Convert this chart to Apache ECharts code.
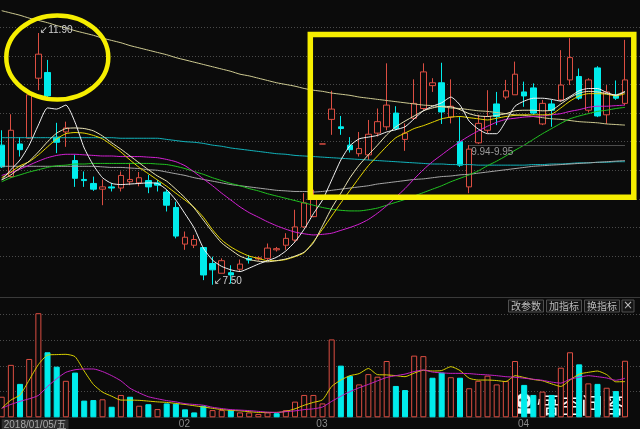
<!DOCTYPE html>
<html><head><meta charset="utf-8">
<script src="https://cdn.jsdelivr.net/npm/echarts@6/dist/echarts.min.js"></script>
<style>html,body{margin:0;padding:0;background:#0b0b0b;}#c{width:640px;height:429px;}</style>
</head><body><div id="c"></div>
<script>
const dates = [
'2018-01-05','2018-01-08','2018-01-09','2018-01-10','2018-01-11','2018-01-12','2018-01-15','2018-01-16','2018-01-17','2018-01-18','2018-01-19','2018-01-22','2018-01-23','2018-01-24','2018-01-25','2018-01-26','2018-01-29','2018-01-30','2018-01-31',
'2018-02-01','2018-02-02','2018-02-05','2018-02-06','2018-02-07','2018-02-08','2018-02-09','2018-02-12','2018-02-13','2018-02-14','2018-02-22','2018-02-23','2018-02-26','2018-02-27','2018-02-28',
'2018-03-01','2018-03-02','2018-03-05','2018-03-06','2018-03-07','2018-03-08','2018-03-09','2018-03-12','2018-03-13','2018-03-14','2018-03-15','2018-03-16','2018-03-19','2018-03-20','2018-03-21','2018-03-22','2018-03-23','2018-03-26','2018-03-27','2018-03-28','2018-03-29','2018-03-30',
'2018-04-02','2018-04-03','2018-04-04','2018-04-09','2018-04-10','2018-04-11','2018-04-12','2018-04-13','2018-04-16','2018-04-17','2018-04-18','2018-04-19','2018-04-20'];
const open  = [9.94,9.39,9.96,10.06,11.11,11.21,10.08,10.17,9.67,9.34,9.27,9.17,9.21,9.19,9.30,9.28,9.32,9.28,9.12,8.85,8.21,8.19,8.15,7.87,7.70,7.71,7.77,7.96,7.95,7.96,8.11,8.19,8.28,8.51,8.69,9.96,10.39,10.26,9.94,9.79,9.77,10.15,10.26,10.50,10.04,10.41,10.58,10.98,11.03,10.43,10.00,9.21,9.98,10.20,10.66,10.78,10.82,10.87,10.94,10.31,10.66,10.73,11.08,11.14,10.55,11.29,10.47,10.80,10.67];
const close = [9.56,10.20,9.86,10.82,11.53,10.80,9.99,10.24,9.36,9.32,9.17,9.21,9.19,9.41,9.34,9.37,9.21,9.24,8.89,8.35,8.33,8.29,7.67,7.76,7.92,7.67,7.86,7.93,7.97,8.14,8.13,8.31,8.51,8.93,9.06,9.96,10.57,10.23,9.86,9.88,10.13,10.35,10.64,10.23,10.15,10.67,11.22,11.03,10.52,10.62,9.59,9.87,10.32,10.44,10.44,10.89,11.18,10.80,10.50,10.67,10.55,10.99,11.47,10.76,11.08,10.45,10.87,10.76,11.08];
const low   = [9.54,9.37,9.74,10.05,10.90,10.78,9.80,9.91,9.21,9.21,9.14,8.89,9.13,9.13,9.24,9.22,9.10,9.13,8.78,8.31,8.11,8.14,7.58,7.50,7.70,7.52,7.74,7.87,7.92,7.93,8.08,8.11,8.25,8.49,8.68,9.96,10.12,10.12,9.81,9.74,9.68,10.09,10.20,10.20,9.84,10.38,10.55,10.87,10.31,10.32,9.56,9.10,9.96,10.15,10.29,10.74,10.82,10.61,10.47,10.29,10.26,10.70,10.99,10.73,10.51,10.43,10.31,10.73,10.64];
const high  = [10.20,10.48,10.08,10.82,11.90,11.43,10.33,10.35,9.77,9.48,9.39,9.34,9.28,9.48,9.63,9.47,9.42,9.33,9.16,8.95,8.43,8.37,8.16,7.99,7.96,7.84,7.94,8.02,8.00,8.22,8.16,8.40,8.81,9.10,9.16,9.96,10.89,10.45,10.08,10.17,10.38,10.58,11.37,10.62,10.32,11.09,11.37,11.11,11.38,11.09,10.43,9.94,10.47,10.90,10.87,11.08,11.40,11.05,11.02,10.73,10.73,11.60,11.81,11.28,11.11,11.32,10.99,11.07,11.78];
const volume = [0.80,2.04,1.30,2.27,4.05,2.53,1.97,1.42,1.74,0.65,0.67,0.70,0.41,0.87,0.80,0.45,0.51,0.32,0.54,0.53,0.31,0.19,0.45,0.28,0.28,0.28,0.19,0.19,0.13,0.19,0.16,0.28,0.61,0.87,0.87,0.54,3.03,2.01,1.61,1.28,1.68,1.58,2.19,1.22,1.06,2.40,2.38,1.54,1.74,1.56,1.54,1.13,1.42,1.62,1.28,1.41,2.19,1.26,0.87,1.00,0.87,1.93,2.53,2.06,1.32,1.30,1.15,1.02,2.20];
const maWhite = [9.33,9.51,9.68,9.94,10.29,10.59,10.57,10.64,10.34,9.89,9.59,9.37,9.27,9.25,9.26,9.27,9.28,9.27,9.16,8.98,8.74,8.49,8.14,7.93,7.82,7.76,7.73,7.79,7.86,7.92,7.98,8.09,8.25,8.47,8.74,8.98,9.33,9.68,9.93,10.05,10.08,10.11,10.17,10.21,10.26,10.40,10.54,10.62,10.68,10.78,10.64,10.36,10.22,10.14,10.14,10.36,10.62,10.71,10.76,10.76,10.74,10.71,10.79,10.89,10.93,10.93,10.86,10.81,10.87];
const maPale = [9.33,9.42,9.54,9.66,9.82,10.00,10.15,10.23,10.24,10.23,10.19,10.10,9.98,9.87,9.75,9.63,9.51,9.40,9.31,9.17,9.02,8.84,8.63,8.42,8.23,8.11,8.00,7.94,7.91,7.90,7.92,7.95,8.00,8.07,8.23,8.53,8.84,9.10,9.37,9.59,9.77,9.94,10.12,10.26,10.36,10.45,10.54,10.59,10.62,10.61,10.56,10.49,10.45,10.44,10.46,10.49,10.54,10.55,10.55,10.54,10.55,10.66,10.77,10.85,10.88,10.87,10.84,10.82,10.88];
const maYellow = [9.37,9.47,9.58,9.65,9.77,9.91,10.05,10.14,10.16,10.15,10.11,10.05,9.94,9.82,9.68,9.55,9.44,9.33,9.22,9.10,8.98,8.85,8.68,8.46,8.28,8.16,8.07,8.00,7.96,7.92,7.92,7.94,7.99,8.06,8.25,8.47,8.70,8.93,9.15,9.37,9.58,9.75,9.92,10.07,10.15,10.23,10.28,10.34,10.40,10.43,10.44,10.42,10.40,10.38,10.41,10.44,10.46,10.47,10.47,10.47,10.48,10.59,10.71,10.80,10.84,10.84,10.83,10.80,10.84];
const maMagenta = [9.41,9.46,9.52,9.59,9.66,9.72,9.76,9.78,9.78,9.77,9.76,9.75,9.75,9.74,9.74,9.74,9.73,9.72,9.69,9.65,9.58,9.47,9.35,9.23,9.10,8.98,8.86,8.76,8.68,8.60,8.53,8.47,8.42,8.39,8.37,8.38,8.40,8.45,8.50,8.56,8.64,8.75,8.88,9.03,9.18,9.35,9.51,9.65,9.77,9.89,10.00,10.10,10.19,10.27,10.34,10.39,10.41,10.43,10.44,10.45,10.47,10.49,10.53,10.56,10.60,10.62,10.62,10.63,10.64];
const maGreen = [9.30,9.37,9.42,9.47,9.51,9.55,9.58,9.59,9.61,9.61,9.62,9.62,9.62,9.62,9.62,9.62,9.62,9.61,9.60,9.57,9.53,9.48,9.43,9.37,9.32,9.27,9.23,9.18,9.14,9.09,9.05,9.01,8.97,8.93,8.89,8.85,8.82,8.80,8.79,8.79,8.81,8.84,8.89,8.94,8.99,9.05,9.11,9.17,9.23,9.30,9.36,9.42,9.49,9.58,9.66,9.75,9.85,9.94,10.04,10.14,10.23,10.32,10.40,10.45,10.49,10.53,10.55,10.58,10.60];
const maGray = [9.57,9.57,9.57,9.57,9.57,9.57,9.57,9.57,9.57,9.57,9.57,9.56,9.55,9.55,9.54,9.53,9.51,9.50,9.47,9.44,9.41,9.37,9.34,9.31,9.28,9.25,9.23,9.21,9.19,9.17,9.15,9.14,9.13,9.13,9.12,9.13,9.15,9.17,9.19,9.21,9.23,9.26,9.28,9.30,9.32,9.34,9.35,9.37,9.39,9.40,9.42,9.43,9.45,9.47,9.49,9.51,9.53,9.55,9.57,9.58,9.59,9.60,9.61,9.62,9.63,9.64,9.65,9.66,9.67];
const maCyan = [10.07,10.07,10.07,10.07,10.07,10.07,10.07,10.07,10.07,10.07,10.07,10.07,10.07,10.06,10.06,10.06,10.06,10.06,10.04,10.02,10.00,9.99,9.97,9.94,9.92,9.89,9.87,9.85,9.83,9.81,9.79,9.78,9.76,9.75,9.74,9.73,9.72,9.71,9.70,9.69,9.68,9.67,9.66,9.65,9.64,9.63,9.62,9.61,9.61,9.60,9.60,9.60,9.59,9.59,9.59,9.59,9.59,9.59,9.60,9.60,9.61,9.61,9.62,9.63,9.63,9.64,9.64,9.65,9.65];
const maKhaki = [12.29,12.25,12.21,12.16,12.12,12.08,12.03,11.99,11.94,11.90,11.86,11.81,11.77,11.73,11.68,11.64,11.60,11.56,11.52,11.47,11.43,11.39,11.35,11.31,11.27,11.23,11.18,11.15,11.11,11.07,11.03,11.00,10.97,10.93,10.90,10.88,10.85,10.83,10.81,10.78,10.76,10.74,10.72,10.70,10.68,10.66,10.64,10.63,10.61,10.59,10.58,10.56,10.54,10.53,10.51,10.49,10.47,10.46,10.44,10.42,10.40,10.39,10.37,10.35,10.34,10.33,10.31,10.30,10.29];
const volMa5 = [0.35,0.67,0.87,1.45,2.05,2.42,2.44,2.45,2.36,1.80,1.28,0.98,0.82,0.67,0.67,0.66,0.63,0.60,0.58,0.54,0.50,0.45,0.40,0.35,0.30,0.27,0.25,0.22,0.19,0.19,0.19,0.23,0.33,0.47,0.58,0.68,1.20,1.45,1.62,1.70,1.90,1.66,1.65,1.62,1.58,1.72,1.83,1.80,1.82,1.97,1.82,1.52,1.45,1.45,1.43,1.39,1.62,1.55,1.47,1.42,1.30,1.20,1.45,1.68,1.75,1.80,1.66,1.38,1.39];
const volMa10 = [0.35,0.50,0.62,0.72,0.85,1.20,1.50,1.75,1.85,1.88,1.88,1.78,1.62,1.42,1.13,0.95,0.80,0.72,0.65,0.60,0.53,0.50,0.47,0.39,0.34,0.30,0.28,0.26,0.23,0.20,0.19,0.22,0.25,0.30,0.33,0.40,0.62,0.82,1.00,1.15,1.28,1.42,1.55,1.62,1.68,1.78,1.84,1.76,1.73,1.71,1.71,1.70,1.67,1.65,1.62,1.58,1.56,1.52,1.48,1.44,1.37,1.33,1.48,1.56,1.62,1.58,1.53,1.44,1.52];
const highMark = {idx: 4, value: 11.90, text: '11.90'};
const lowMark = {idx: 23, value: 7.50, text: '7.50'};
const gapLine = {from: 51, to: 68, value: 9.945, text: '9.94-9.95'};

const BG = '#0b0b0b', RED = '#dc4e42', CYAN = '#00ecec';
const weekdays = '日一二三四五六';
const labelIdx = dates.map((d, i) => (i === 0 || d.slice(5, 7) !== dates[i - 1].slice(5, 7)) ? i : -1).filter(i => i >= 0);

const kData = dates.map((d, i) => [open[i], close[i], low[i], high[i]]);
const volData = volume.map((v, i) => {
  const up = i === 0 || close[i] >= close[i - 1];
  return {value: v, itemStyle: up ? {color: BG, borderColor: RED, borderWidth: 1} : {color: CYAN, borderColor: CYAN, borderWidth: 1}};
});

function line(name, data, color, xi, yi) {
  return {name, type: 'line', data, xAxisIndex: xi, yAxisIndex: yi, symbol: 'none', smooth: 0.2,
    lineStyle: {color, width: 1}, silent: true, z: 3};
}

const dotted = {color: '#4a4a4a', type: [1, 2], width: 1};
const chart = echarts.init(document.getElementById('c'), null, {renderer: 'canvas'});
chart.setOption({
  backgroundColor: BG,
  animation: false,
  grid: [
    {left: 0, right: 0, top: 27.3, height: 228.8, outerBoundsMode: 'none'},
    {left: 1.7, right: 15, top: 0, height: 297, outerBoundsMode: 'none'},
    {left: 0, right: 0, top: 314.5, height: 77.1, outerBoundsMode: 'none'},
    {left: 1.7, right: 15, top: 297.3, height: 120, outerBoundsMode: 'none'}
  ],
  xAxis: [
    {gridIndex: 0, type: 'value', min: 0, max: 1, show: false},
    {gridIndex: 1, type: 'category', data: dates, boundaryGap: false, show: false},
    {gridIndex: 2, type: 'value', min: 0, max: 1, show: false},
    {gridIndex: 3, type: 'category', data: dates, boundaryGap: false,
      axisLine: {show: true, lineStyle: {color: '#262626'}}, axisTick: {show: false},
      axisLabel: {
        interval: (idx) => labelIdx.includes(idx), align: 'left', margin: 2,
        formatter: (val, idx) => {
          if (idx === 0) {
            const wd = weekdays[new Date(val + 'T00:00:00').getDay()];
            return '{d|' + val.replace(/-/g, '/') + '/' + wd + '}';
          }
          return '{m|' + val.slice(5, 7) + '}';
        },
        rich: {
          d: {color: '#a8a8a8', fontSize: 10, fontFamily: 'Liberation Sans, Noto Sans CJK SC', backgroundColor: '#2e2e2e', padding: [1, 2, 0, 2]},
          m: {color: '#8a8a8a', fontSize: 10, fontFamily: 'Liberation Sans', padding: [0, 0, 0, 3]}
        }
      }}
  ],
  yAxis: [
    {gridIndex: 0, type: 'value', min: 8, max: 12, interval: 0.5, axisLabel: {show: false}, axisLine: {show: false}, axisTick: {show: false}, splitLine: {show: true, lineStyle: dotted}},
    {gridIndex: 1, type: 'value', min: 7.285, max: 12.477, show: false, splitLine: {show: false}},
    {gridIndex: 2, type: 'value', min: 1, max: 4, interval: 1, axisLabel: {show: false}, axisLine: {show: false}, axisTick: {show: false}, splitLine: {show: true, lineStyle: dotted}},
    {gridIndex: 3, type: 'value', min: 0, max: 4.669, show: false, splitLine: {show: false}}
  ],
  series: [
    {type: 'candlestick', data: kData, xAxisIndex: 1, yAxisIndex: 1, barWidth: 6, clip: false, z: 2,
      itemStyle: {color: BG, color0: CYAN, borderColor: RED, borderColor0: CYAN, borderWidth: 1},
      markPoint: {
        symbol: 'circle', symbolSize: 1, itemStyle: {color: 'rgba(0,0,0,0)'}, silent: true,
        label: {show: true, position: 'right', distance: 1, offset: [0, -3], color: '#d0d0d0', fontSize: 10, fontFamily: 'Liberation Sans, DejaVu Sans'},
        data: [
          {coord: [highMark.idx, highMark.value], label: {formatter: '↙' + highMark.text}},
          {coord: [lowMark.idx, lowMark.value], label: {formatter: '↙' + lowMark.text}}
        ]
      },
      markLine: {
        silent: true, symbol: ['none', 'none'],
        lineStyle: {color: '#4c4c4c', type: 'solid', width: 1},
        label: {show: true, position: 'insideStartBottom', formatter: gapLine.text, color: '#9a9a9a', fontSize: 10, fontFamily: 'Liberation Sans', distance: 2},
        data: [[{coord: [gapLine.from, gapLine.value]}, {coord: [gapLine.to, gapLine.value]}]]
      }
    },
    line('cyan', maCyan, '#12b4bc', 1, 1),
    line('gray', maGray, '#a8a8a8', 1, 1),
    line('khaki', maKhaki, '#cfcb92', 1, 1),
    line('green', maGreen, '#22c422', 1, 1),
    line('magenta', maMagenta, '#d422d4', 1, 1),
    line('yellow', maYellow, '#e8d800', 1, 1),
    line('pale', maPale, '#ece6b8', 1, 1),
    line('white', maWhite, '#f2f2f2', 1, 1),
    {type: 'bar', data: volData, xAxisIndex: 3, yAxisIndex: 3, barWidth: 6, clip: false, z: 2},
    line('vma5', volMa5, '#d8d000', 3, 3),
    line('vma10', volMa10, '#c422c4', 3, 3)
  ],
  graphic: [
    {type: 'line', z: 50, silent: true, shape: {x1: 0, y1: 297.5, x2: 640, y2: 297.5}, style: {stroke: '#3a3a3a', lineWidth: 1}},
    {type: 'ellipse', z: 100, silent: true, shape: {cx: 57.3, cy: 57.5, rx: 51, ry: 42}, style: {fill: null, stroke: '#f6ee00', lineWidth: 4.5}},
    {type: 'rect', z: 100, silent: true, shape: {x: 310.3, y: 34.5, width: 323.5, height: 162.7}, style: {fill: null, stroke: '#f6ee00', lineWidth: 5.5}},
    {type: 'group', z: 100, silent: true, children: [
      {type: 'rect', shape: {x: 508.5, y: 300, width: 35, height: 12}, style: {fill: '#151515', stroke: '#505050', lineWidth: 1}},
      {type: 'text', x: 526, y: 306.5, style: {text: '改参数', fill: '#bdbdbd', fontSize: 10, fontFamily: 'Noto Sans CJK SC', align: 'center', verticalAlign: 'middle'}},
      {type: 'rect', shape: {x: 546.5, y: 300, width: 35, height: 12}, style: {fill: '#151515', stroke: '#505050', lineWidth: 1}},
      {type: 'text', x: 564, y: 306.5, style: {text: '加指标', fill: '#bdbdbd', fontSize: 10, fontFamily: 'Noto Sans CJK SC', align: 'center', verticalAlign: 'middle'}},
      {type: 'rect', shape: {x: 584.5, y: 300, width: 35, height: 12}, style: {fill: '#151515', stroke: '#505050', lineWidth: 1}},
      {type: 'text', x: 602, y: 306.5, style: {text: '换指标', fill: '#bdbdbd', fontSize: 10, fontFamily: 'Noto Sans CJK SC', align: 'center', verticalAlign: 'middle'}},
      {type: 'rect', shape: {x: 622, y: 300, width: 12, height: 12}, style: {fill: '#151515', stroke: '#505050', lineWidth: 1}},
      {type: 'text', x: 628, y: 306, style: {text: '×', fill: '#bdbdbd', fontSize: 12, fontFamily: 'DejaVu Sans', align: 'center', verticalAlign: 'middle'}}
    ]},
    {type: 'group', z: 110, silent: true, children: [
      {type: 'circle', shape: {cx: 523.5, cy: 401, r: 8}, style: {fill: '#f4f4f4', stroke: 'rgba(0,0,0,0.6)', lineWidth: 1}},
      {type: 'circle', shape: {cx: 520.5, cy: 400, r: 1.6}, style: {fill: '#555'}},
      {type: 'circle', shape: {cx: 526.5, cy: 400, r: 1.6}, style: {fill: '#555'}},
      {type: 'rect', shape: {x: 513, y: 408, width: 21, height: 6, r: 2}, style: {fill: '#f4f4f4', stroke: 'rgba(0,0,0,0.6)', lineWidth: 1}},
      {type: 'text', x: 537, y: 405, style: {text: '悟空问答', fill: '#f6f6f6', fontSize: 22, fontWeight: 'normal', fontFamily: 'Noto Sans CJK SC', align: 'left', verticalAlign: 'middle', stroke: 'rgba(0,0,0,0.55)', lineWidth: 2}}
    ]}
  ]
});
</script></body></html>
